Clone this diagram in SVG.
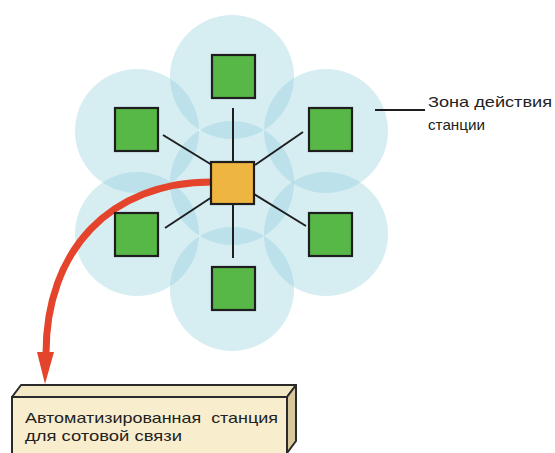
<svg xmlns="http://www.w3.org/2000/svg" width="555" height="453" viewBox="0 0 555 453">
<style>
.zone{fill:#8fcddc;fill-opacity:0.37}
.cell{fill:#58b847;stroke:#1e1e1e;stroke-width:2.2}
.hub{fill:#eeb540;stroke:#1e1e1e;stroke-width:2.2}
.link{stroke:#1e1e1e;stroke-width:2;fill:none}
.txt{font-family:"Liberation Sans","DejaVu Sans",sans-serif;fill:#222}
</style>
<rect width="555" height="453" fill="#fff"/>
<g id="zones">
<circle class="zone" cx="232" cy="77" r="62"/>
<circle class="zone" cx="137" cy="131" r="62"/>
<circle class="zone" cx="326" cy="131" r="62"/>
<circle class="zone" cx="232" cy="183" r="62"/>
<circle class="zone" cx="137" cy="234" r="62"/>
<circle class="zone" cx="326" cy="234" r="62"/>
<circle class="zone" cx="232" cy="289" r="62"/>
</g>
<g id="connectors">
<line class="link" x1="233" y1="108" x2="233" y2="162"/>
<line class="link" x1="233" y1="204" x2="233" y2="258"/>
<line class="link" x1="163" y1="135" x2="212" y2="165"/>
<line class="link" x1="255" y1="165" x2="303" y2="132"/>
<line class="link" x1="165" y1="228" x2="212" y2="197"/>
<line class="link" x1="254" y1="194" x2="306" y2="226"/>
<line class="link" x1="375" y1="110" x2="425" y2="110" stroke-width="1.5"/>
<path d="M212,182 C110,182 46,250 46,354" fill="none" stroke="#e5442c" stroke-width="7"/>
<polygon points="37,352 54,352 45,384" fill="#e5442c"/>
</g>
<g id="cell-top"><rect class="cell" x="212" y="55" width="43" height="43"/></g>
<g id="cell-upper-left"><rect class="cell" x="115" y="108" width="43" height="43"/></g>
<g id="cell-upper-right"><rect class="cell" x="309" y="108" width="43" height="43"/></g>
<g id="cell-lower-left"><rect class="cell" x="115" y="213" width="43" height="43"/></g>
<g id="cell-lower-right"><rect class="cell" x="309" y="213" width="43" height="43"/></g>
<g id="cell-bottom"><rect class="cell" x="212" y="267" width="43" height="43"/></g>
<g id="hub"><rect class="hub" x="211" y="162" width="43" height="42"/></g>
<g id="zone-label">
<text class="txt" x="428" y="107" font-size="15" textLength="124" lengthAdjust="spacingAndGlyphs">Зона действия</text>
<text class="txt" x="428" y="130" font-size="15" textLength="57" lengthAdjust="spacingAndGlyphs">станции</text>
</g>
<g id="station">
<polygon points="12,397 21,385 296,385 287,397" fill="#f3e8c6" stroke="#2a2a2a" stroke-width="2" stroke-linejoin="round"/>
<polygon points="287,397 296,385 296,441 287,453" fill="#d8c79c" stroke="#2a2a2a" stroke-width="2" stroke-linejoin="round"/>
<rect x="12" y="397" width="275" height="60" fill="#f8edcc" stroke="#2a2a2a" stroke-width="2"/>
<text class="txt" x="25" y="423" font-size="15" textLength="253" lengthAdjust="spacingAndGlyphs" xml:space="preserve">Автоматизированная  станция</text>
<text class="txt" x="25" y="441" font-size="15" textLength="157" lengthAdjust="spacingAndGlyphs">для сотовой связи</text>
</g>
</svg>
